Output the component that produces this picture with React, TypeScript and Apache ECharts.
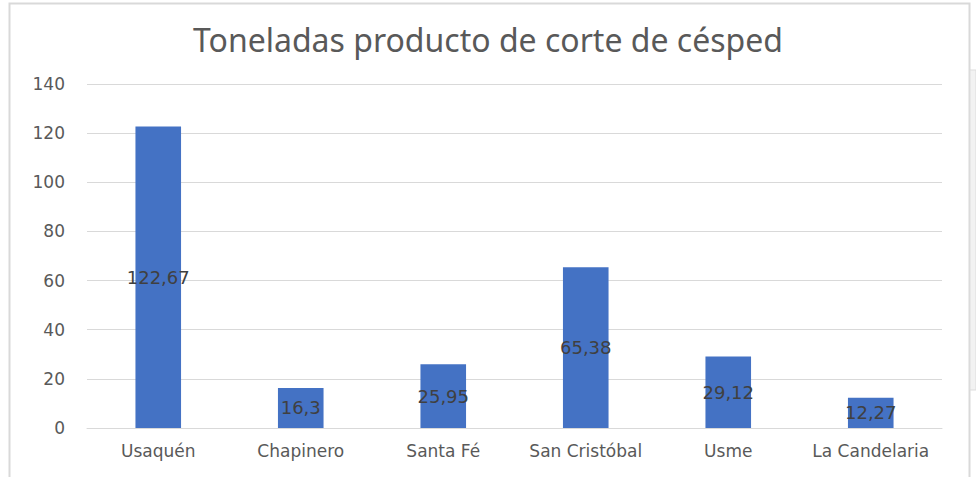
import React, { useEffect, useRef } from "react";
import * as echarts from "echarts";

const categories = ["Usaquén", "Chapinero", "Santa Fé", "San Cristóbal", "Usme", "La Candelaria"];
const values = [122.67, 16.3, 25.95, 65.38, 29.12, 12.27];
const title = "Toneladas producto de corte de césped";

export default function App() {
  const ref = useRef<HTMLDivElement>(null);
  useEffect(() => {
    const chart = echarts.init(ref.current!, null, { renderer: "svg" });
    chart.setOption({
      animation: false,
      backgroundColor: "#ffffff",
      title: {
        text: title,
        left: "center",
        top: 18,
        textStyle: { fontFamily: "Noto Sans", fontSize: 32, fontWeight: "normal", color: "#595959" },
      },
      graphic: [
        {
          type: "rect",
          shape: { x: 9.5, y: 3.5, width: 960, height: 480 },
          style: { fill: "none", stroke: "#d9d9d9", lineWidth: 2 },
          silent: true,
        },
        {
          type: "rect",
          shape: { x: 970, y: 70, width: 6, height: 320 },
          style: { fill: "#f2f2f2", stroke: "#dddddd", lineWidth: 1 },
          silent: true,
        },
      ],
      grid: { left: 87, right: 34, top: 84, bottom: 49 },
      xAxis: {
        type: "category",
        data: categories,
        axisLine: { lineStyle: { color: "#d9d9d9" } },
        axisTick: { show: false },
        axisLabel: { color: "#595959", fontFamily: "DejaVu Sans", fontSize: 17, margin: 14, interval: 0 },
      },
      yAxis: {
        type: "value",
        min: 0,
        max: 140,
        interval: 20,
        axisLine: { show: false },
        axisTick: { show: false },
        splitLine: { lineStyle: { color: "#d9d9d9" } },
        axisLabel: { color: "#595959", fontFamily: "DejaVu Sans", fontSize: 17, margin: 22 },
      },
      series: [
        {
          type: "bar",
          data: values,
          barWidth: "32%",
          itemStyle: { color: "#4472c4" },
          label: {
            show: true,
            position: "inside",
            color: "#404040",
            fontFamily: "DejaVu Sans",
            fontSize: 18,
            formatter: (p: any) => String(p.value).replace(".", ","),
          },
        },
      ],
    });
    return () => chart.dispose();
  }, []);
  return (
    <div
      ref={ref}
      style={{ position: "fixed", left: 0, top: 0, width: 976, height: 477 }}
    />
  );
}
